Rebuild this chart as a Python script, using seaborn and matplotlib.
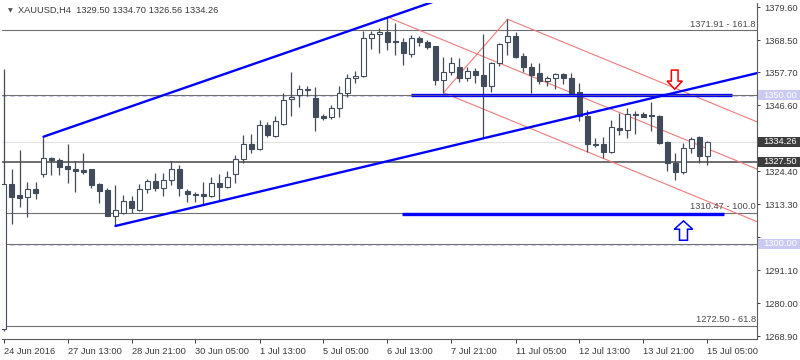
import numpy as np
import pandas as pd
import matplotlib
matplotlib.use("Agg")
import matplotlib.pyplot as plt
import matplotlib.transforms as mtransforms
from matplotlib.patches import Rectangle, Polygon
import seaborn as sns

# ---------------- data ----------------
symbol_title = "XAUUSD,H4"
header_ohlc = ["1329.50", "1334.70", "1326.56", "1334.26"]

opens = [1271.3, 1320.0, 1316.3, 1315.6, 1318.3, 1323.6, 1328.9, 1328.1, 1326.2, 1325.3,
         1324.8, 1325.0, 1320.0, 1318.0, 1309.5, 1310.3, 1314.4, 1311.3, 1318.3, 1321.1,
         1318.8, 1321.4, 1325.3, 1317.7, 1316.9, 1316.7, 1316.0, 1320.5, 1319.1, 1323.6,
         1328.4, 1333.7, 1331.9, 1339.9, 1336.2, 1340.2, 1348.7, 1349.9, 1351.8, 1348.9,
         1343.0, 1342.7, 1345.5, 1350.6, 1355.6, 1356.5, 1369.1, 1370.5, 1371.2, 1368.1,
         1367.7, 1363.7, 1369.1, 1367.9, 1366.5, 1355.0, 1357.8, 1359.5, 1355.9, 1358.1,
         1356.7, 1353.0, 1360.7, 1367.9, 1369.8, 1363.1, 1359.3, 1357.3, 1354.8, 1355.6,
         1357.1, 1355.9, 1350.9, 1342.9, 1333.7, 1333.5, 1330.9, 1338.8, 1338.2, 1343.6,
         1343.6, 1343.4, 1343.0, 1334.3, 1327.0, 1324.2, 1332.1, 1336.0, 1329.50]
highs = [1358.7, 1325.3, 1331.7, 1320.7, 1320.7, 1336.0, 1329.2, 1328.7, 1333.5, 1327.9,
         1330.6, 1325.2, 1320.6, 1318.8, 1319.7, 1316.3, 1316.0, 1320.0, 1321.8, 1323.8,
         1323.8, 1328.0, 1326.4, 1318.4, 1317.4, 1320.7, 1322.5, 1323.3, 1324.5, 1329.8,
         1336.5, 1337.0, 1341.6, 1340.9, 1342.8, 1350.6, 1357.8, 1353.4, 1353.0, 1352.6,
         1343.8, 1346.6, 1353.0, 1357.1, 1358.1, 1371.7, 1371.6, 1372.4, 1376.2, 1374.1,
         1369.1, 1370.2, 1369.8, 1368.5, 1366.6, 1362.9, 1362.9, 1362.3, 1359.5, 1359.0,
         1370.5, 1361.2, 1367.4, 1375.5, 1371.3, 1364.0, 1360.7, 1360.7, 1356.4, 1357.5,
         1357.5, 1357.5, 1353.9, 1344.9, 1335.4, 1335.8, 1341.6, 1344.0, 1345.5, 1344.7,
         1344.4, 1347.6, 1343.3, 1334.4, 1330.4, 1333.9, 1336.0, 1336.2, 1334.70]
lows = [1270.8, 1306.8, 1312.4, 1309.0, 1315.1, 1322.5, 1323.1, 1323.1, 1320.6, 1317.5,
        1323.6, 1318.6, 1313.8, 1309.2, 1306.0, 1310.0, 1310.5, 1311.1, 1317.1, 1317.8,
        1316.1, 1319.7, 1316.1, 1314.1, 1314.1, 1313.0, 1315.6, 1314.6, 1318.8, 1320.5,
        1327.0, 1330.6, 1331.5, 1335.8, 1336.0, 1339.9, 1342.8, 1346.0, 1349.7, 1338.0,
        1341.6, 1342.1, 1342.5, 1349.5, 1354.0, 1356.2, 1365.4, 1364.2, 1365.0, 1363.4,
        1360.1, 1362.9, 1366.5, 1365.4, 1353.4, 1350.8, 1356.7, 1354.5, 1354.8, 1354.1,
        1335.4, 1351.1, 1359.7, 1363.4, 1362.3, 1357.8, 1350.8, 1353.7, 1353.0, 1351.9,
        1353.7, 1350.6, 1341.3, 1330.9, 1332.4, 1328.7, 1330.6, 1336.5, 1335.4, 1336.9,
        1342.5, 1337.9, 1333.7, 1324.5, 1321.4, 1323.6, 1330.6, 1327.0, 1326.56]
closes = [1320.0, 1315.8, 1315.4, 1318.3, 1317.1, 1328.7, 1328.1, 1325.9, 1325.3, 1324.5,
          1324.1, 1319.9, 1317.8, 1309.4, 1311.3, 1314.4, 1311.9, 1318.3, 1321.1, 1318.8,
          1321.4, 1325.3, 1318.9, 1316.8, 1316.4, 1316.2, 1320.5, 1319.1, 1322.4, 1328.4,
          1333.7, 1331.9, 1339.8, 1336.6, 1341.2, 1348.5, 1349.5, 1351.9, 1352.0, 1342.7,
          1342.4, 1345.5, 1350.6, 1355.6, 1356.5, 1369.1, 1370.5, 1371.2, 1367.9, 1367.8,
          1364.0, 1369.1, 1367.9, 1366.2, 1355.0, 1357.8, 1360.7, 1355.6, 1358.1, 1356.7,
          1353.0, 1360.7, 1367.1, 1369.8, 1362.9, 1359.3, 1356.7, 1354.8, 1355.6, 1357.1,
          1355.9, 1350.8, 1342.9, 1333.7, 1333.3, 1330.9, 1339.1, 1338.2, 1343.6, 1343.3,
          1342.7, 1342.8, 1333.9, 1327.0, 1324.2, 1332.1, 1335.1, 1329.6, 1334.26]

date_labels = ["24 Jun 2016", "27 Jun 13:00", "28 Jun 21:00", "30 Jun 05:00",
               "1 Jul 13:00", "5 Jul 05:00", "6 Jul 13:00", "7 Jul 21:00",
               "11 Jul 05:00", "12 Jul 13:00", "13 Jul 21:00", "15 Jul 05:00"]
date_label_step = 8

price_ticks = [1268.90, 1280.00, 1291.10, 1302.20, 1313.30, 1324.40,
               1335.50, 1346.60, 1357.70, 1368.50, 1379.60]
# tick labels hidden behind the price boxes on the axis
hidden_tick_labels = [1302.20, 1335.50]

fib_levels = [1371.91, 1310.47, 1272.50]
fib_labels = ["1371.91 - 161.8", "1310.47 - 100.0", "1272.50 - 61.8"]
round_levels = [1350.00, 1300.00]
support_level = 1327.50
bid_price = 1334.26

# trend channel anchors: (start bar, start price, price change per bar)
upper_channel = (5, 1336.0, 0.931)
lower_channel = (14, 1306.0, 0.6406)
# blue horizontal segments: (start bar, end bar, price)
resistance_zone = (51.0, 91.1, 1350.0)
target_line = (49.8, 90.1, 1310.0)
# Andrews pitchfork pivots (bar, price)
fork_a = (48, 1376.2)
fork_b = (55, 1350.8)
fork_c = (63, 1375.5)
fork_slope = -1.106
# arrow markers (bar, tip price)
down_arrow = (83.9, 1352.0)
up_arrow = (85.0, 1307.7)

# ---------------- style ----------------
sns.set_style("white")
plt.rcParams["font.family"] = ["Liberation Sans", "DejaVu Sans"]
FS = 6.7
TXT = "#3a3a3a"
CANDLE = "#414b59"
GRAY = "#6e6e6e"
BLUE = "#0000ff"
RED = "#f07a7a"
LAV = "#c9c9f2"

W, H = 800, 360
fig = plt.figure(figsize=(W / 100, H / 100), dpi=100)
fig.patch.set_facecolor("white")
ax = fig.add_axes([2 / W, (H - 339) / H, 755 / W, 336 / H])

PX = 2.975  # pixels per price unit
y_top = 1379.60 + 4 / PX
y_bot = 1379.60 - 332 / PX
x_left = (2 - 3.5) / 8
x_right = (757 - 3.5) / 8
ax.set_xlim(x_left, x_right)
ax.set_ylim(y_bot, y_top)

n = len(opens)
idx = np.arange(n)
o = np.array(opens); c = np.array(closes)
hi = np.array(highs); lo = np.array(lows)
up = c >= o

# horizontal reference lines
ax.axhline(bid_price, color="#e2e2e2", lw=0.8, zorder=1)
for lvl in fib_levels:
    ax.axhline(lvl, color=GRAY, lw=0.8, zorder=1)
for lvl in round_levels:
    ax.axhline(lvl, color=GRAY, lw=0.8, zorder=1)
    ax.axhline(lvl - 0.35, color=LAV, lw=0.8, ls=(0, (4, 3)), zorder=1)
ax.axhline(support_level, color=GRAY, lw=1.4, zorder=1)

# pitchfork
def ray(bar0, p0, slope, bar1):
    return [bar0, bar1], [p0, p0 + slope * (bar1 - bar0)]

rows = []
for name, (b0, p0) in {"a": fork_a, "b": fork_b, "c": fork_c}.items():
    xs, ys = ray(b0, p0, fork_slope, x_right + 1)
    rows += [dict(bar=xx, price=yy, line=name) for xx, yy in zip(xs, ys)]
rows += [dict(bar=fork_b[0], price=fork_b[1], line="bc"),
         dict(bar=fork_c[0], price=fork_c[1], line="bc")]
fork_df = pd.DataFrame(rows)
sns.lineplot(data=fork_df, x="bar", y="price", units="line", estimator=None,
             color=RED, lw=0.8, ax=ax, legend=False, zorder=2)

# candles
ax.vlines(idx, lo, hi, color=CANDLE, lw=0.9, zorder=3)
body_bottom = np.minimum(o, c)
body_h = np.maximum(np.abs(c - o), 0.05)
ax.bar(idx[up], body_h[up], bottom=body_bottom[up], width=0.6,
       facecolor="white", edgecolor=CANDLE, linewidth=0.8, zorder=4)
ax.bar(idx[~up], body_h[~up], bottom=body_bottom[~up], width=0.6,
       facecolor=CANDLE, edgecolor=CANDLE, linewidth=0.8, zorder=4)

# blue channels
rows = []
for name, (b0, p0, s) in {"up": upper_channel, "lo": lower_channel}.items():
    xs, ys = ray(b0, p0, s, x_right + 1)
    rows += [dict(bar=xx, price=yy, line=name) for xx, yy in zip(xs, ys)]
chan_df = pd.DataFrame(rows)
sns.lineplot(data=chan_df, x="bar", y="price", units="line", estimator=None,
             color=BLUE, lw=1.7, ax=ax, legend=False, zorder=5)

b0, b1, p = resistance_zone
ax.hlines([p + 0.42, p - 0.42], b0, b1, color=BLUE, lw=0.95, zorder=5)
b0, b1, p = target_line
ax.hlines(p, b0, b1, color=BLUE, lw=2.4, zorder=5)

# arrows
cx, tip = down_arrow
s, h = 0.42, 0.95
base, top = tip + 2.7, tip + 6.4
ax.add_patch(Polygon([(cx - s, top), (cx + s, top), (cx + s, base), (cx + h, base),
                      (cx, tip), (cx - h, base), (cx - s, base)], closed=True,
                     facecolor="white", edgecolor="#ff0000", lw=1.1, zorder=6))
cx, tip = up_arrow
s, h = 0.5, 1.15
base, bottom = tip - 2.8, tip - 6.5
ax.add_patch(Polygon([(cx - s, bottom), (cx + s, bottom), (cx + s, base), (cx + h, base),
                      (cx, tip), (cx - h, base), (cx - s, base)], closed=True,
                     facecolor="white", edgecolor=BLUE, lw=1.1, zorder=6))

# fib labels
tr_axd = mtransforms.blended_transform_factory(ax.transAxes, ax.transData)
for lvl, lab in zip(fib_levels, fib_labels):
    ax.text(0.9985, lvl + 0.4, lab, transform=tr_axd, ha="right", va="bottom",
            fontsize=FS, color="#4a4a4a", zorder=7)

# axes / ticks
ax.set_xlabel("")
ax.set_ylabel("")
for sp in ["left", "top"]:
    ax.spines[sp].set_visible(False)
for sp in ["right", "bottom"]:
    ax.spines[sp].set_color("#5a5a5a")
    ax.spines[sp].set_linewidth(0.8)
ax.yaxis.tick_right()
ax.set_yticks(price_ticks)
ax.set_yticklabels(["" if v in hidden_tick_labels else f"{v:.2f}" for v in price_ticks])
ax.tick_params(axis="y", right=True, left=False, labelright=True, labelleft=False,
               length=2.5, width=0.7, pad=3, labelsize=FS, colors=TXT)
xt = np.arange(0, n, date_label_step)[:len(date_labels)]
ax.set_xticks(xt)
ax.set_xticklabels(date_labels)
ax.tick_params(axis="x", bottom=True, length=3, width=0.7, pad=2.5,
               labelsize=FS, colors=TXT)
for lab in ax.get_xticklabels():
    lab.set_ha("left")
ax.grid(False)

# price boxes on the axis
def price_box(price, text, face):
    bh = 10.5 / PX
    ax.add_patch(Rectangle((1.0 + 1 / 755, price - bh / 2), 43 / 755, bh,
                           transform=tr_axd, facecolor=face, edgecolor="none",
                           clip_on=False, zorder=20))
    ax.text(1.0 + 6 / 755, price, text, transform=tr_axd, ha="left", va="center",
            fontsize=FS, color="white", clip_on=False, zorder=21)

price_box(round_levels[0], f"{round_levels[0]:.2f}", LAV)
price_box(round_levels[1], f"{round_levels[1]:.2f}", LAV)
price_box(bid_price, f"{bid_price:.2f}", "#3c3c3c")
price_box(support_level, f"{support_level:.2f}", "#3c3c3c")

# header
fig.text(8 / W, 1 - 10.5 / H, "\u25BC", fontsize=4.5, color="#505050",
         va="center", ha="left", family=["DejaVu Sans"])
fig.text(18 / W, 1 - 10.5 / H, symbol_title + "  " + " ".join(header_ohlc),
         fontsize=FS, color=TXT, va="center", ha="left")

fig.savefig("out.png", dpi=100, facecolor="white")
